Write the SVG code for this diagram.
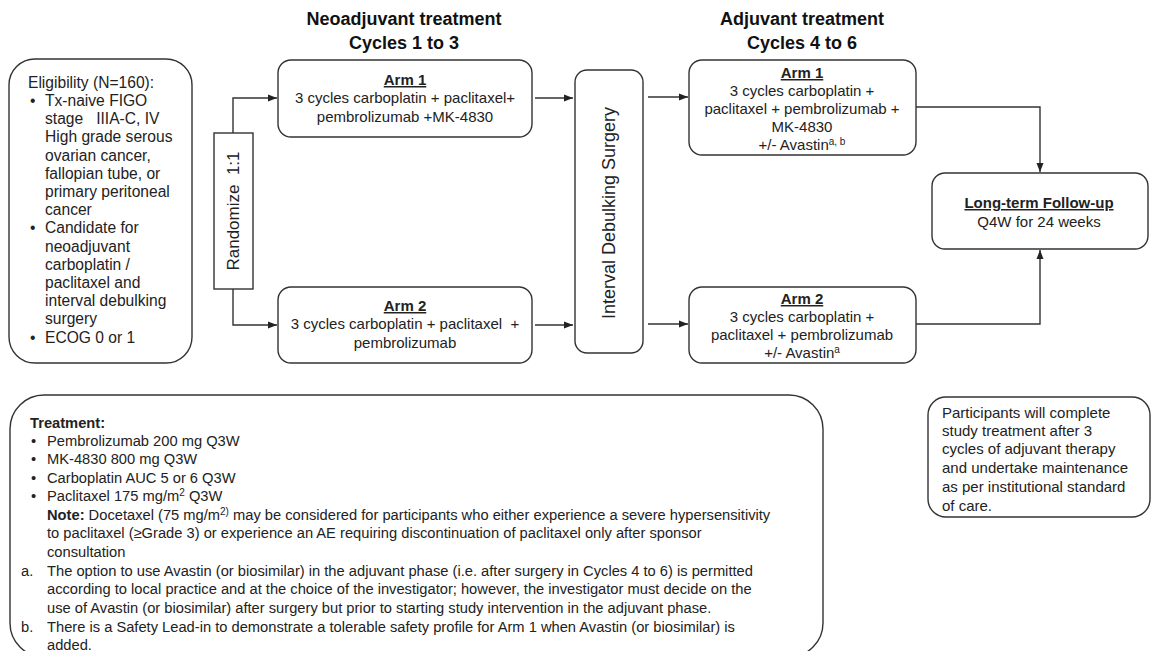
<svg xmlns="http://www.w3.org/2000/svg" width="1151" height="651" viewBox="0 0 1151 651">
<style>
text{font-family:"Liberation Sans",Arial,sans-serif;fill:#222;white-space:pre;}
.box{fill:#fff;stroke:#333;stroke-width:1.4;}
.t15{font-size:15px;}
.te{font-size:15.6px;}
.tt{font-size:14.7px;}
.tp{font-size:15px;}
.c{text-anchor:middle;}
.b{font-weight:bold;}
.u{text-decoration:underline;}
.title{font-size:18px;font-weight:bold;text-anchor:middle;fill:#111;}
.rot{font-size:17px;text-anchor:middle;}
.conn{fill:none;stroke:#333;stroke-width:1.4;}
</style>
<defs>
<marker id="arr" markerUnits="userSpaceOnUse" markerWidth="10" markerHeight="8" refX="9" refY="4" orient="auto">
<path d="M0,0.5 L9,4 L0,7.5 z" fill="#222"/>
</marker>
</defs>
<rect width="1151" height="651" fill="#fff"/>

<g id="titles">
<text class="title" x="404" y="25">Neoadjuvant treatment</text>
<text class="title" x="404" y="49">Cycles 1 to 3</text>
<text class="title" x="802" y="25">Adjuvant treatment</text>
<text class="title" x="802" y="49">Cycles 4 to 6</text>
</g>

<g id="connectors">
<path class="conn" d="M233,133 V98 H277" marker-end="url(#arr)"/>
<path class="conn" d="M233,289 V325 H277" marker-end="url(#arr)"/>
<path class="conn" d="M535,98 H573" marker-end="url(#arr)"/>
<path class="conn" d="M535,325 H573" marker-end="url(#arr)"/>
<path class="conn" d="M648,97 H688" marker-end="url(#arr)"/>
<path class="conn" d="M648,324 H688" marker-end="url(#arr)"/>
<path class="conn" d="M916,107 H1040 V172" marker-end="url(#arr)"/>
<path class="conn" d="M916,324 H1040 V250" marker-end="url(#arr)"/>
</g>

<g id="eligibility">
<rect class="box" x="9" y="59" width="183" height="304" rx="26"/>
<text class="te" x="28" y="88">Eligibility (N=160):</text>
<text class="te" x="30" y="106">•</text>
<text class="te" x="45" y="106">Tx-naive FIGO</text>
<text class="te" x="45" y="124">stage   IIIA-C, IV</text>
<text class="te" x="45" y="142">High grade serous</text>
<text class="te" x="45" y="161">ovarian cancer,</text>
<text class="te" x="45" y="179">fallopian tube, or</text>
<text class="te" x="45" y="197">primary peritoneal</text>
<text class="te" x="45" y="215">cancer</text>
<text class="te" x="30" y="233">•</text>
<text class="te" x="45" y="233">Candidate for</text>
<text class="te" x="45" y="252">neoadjuvant</text>
<text class="te" x="45" y="270">carboplatin /</text>
<text class="te" x="45" y="288">paclitaxel and</text>
<text class="te" x="45" y="306">interval debulking</text>
<text class="te" x="45" y="324">surgery</text>
<text class="te" x="30" y="343">•</text>
<text class="te" x="45" y="343">ECOG 0 or 1</text>
</g>

<g id="randomize">
<rect class="box" x="214" y="133" width="39" height="156"/>
<text class="rot" transform="translate(239,211) rotate(-90)">Randomize  1:1</text>
</g>

<g id="neo-arm1">
<rect class="box" x="278" y="60" width="254" height="77" rx="13"/>
<text class="t15 c b u" x="405" y="85">Arm 1</text>
<text class="t15 c" x="405" y="103">3 cycles carboplatin + paclitaxel+</text>
<text class="t15 c" x="405" y="122">pembrolizumab +MK-4830</text>
</g>

<g id="neo-arm2">
<rect class="box" x="278" y="287" width="254" height="76" rx="13"/>
<text class="t15 c b u" x="405" y="311">Arm 2</text>
<text class="t15 c" x="405" y="329">3 cycles carboplatin + paclitaxel  +</text>
<text class="t15 c" x="405" y="348">pembrolizumab</text>
</g>

<g id="surgery">
<rect class="box" x="575" y="70" width="68" height="283" rx="12"/>
<text class="rot" style="font-size:18px" transform="translate(615,213) rotate(-90)">Interval Debulking Surgery</text>
</g>

<g id="adj-arm1">
<rect class="box" x="689" y="60" width="227" height="95" rx="13"/>
<text class="t15 c b u" x="802" y="78">Arm 1</text>
<text class="t15 c" x="802" y="96">3 cycles carboplatin +</text>
<text class="t15 c" x="802" y="114">paclitaxel + pembrolizumab +</text>
<text class="t15 c" x="802" y="132">MK-4830</text>
<text class="t15 c" x="802" y="150">+/- Avastin<tspan font-size="10" dy="-5">a, b</tspan></text>
</g>

<g id="adj-arm2">
<rect class="box" x="689" y="287" width="227" height="76" rx="13"/>
<text class="t15 c b u" x="802" y="304">Arm 2</text>
<text class="t15 c" x="802" y="322">3 cycles carboplatin +</text>
<text class="t15 c" x="802" y="340">paclitaxel + pembrolizumab</text>
<text class="t15 c" x="802" y="358">+/- Avastin<tspan font-size="10" dy="-5">a</tspan></text>
</g>

<g id="followup">
<rect class="box" x="932" y="173" width="216" height="76" rx="13"/>
<text class="t15 c b u" x="1039" y="208">Long-term Follow-up</text>
<text class="t15 c" x="1039" y="227">Q4W for 24 weeks</text>
</g>

<g id="treatment">
<rect class="box" x="10" y="395" width="813" height="262" rx="34"/>
<text class="tt b" x="30" y="428">Treatment:</text>
<text class="tt" x="31" y="446">•</text>
<text class="tt" x="47" y="446">Pembrolizumab 200 mg Q3W</text>
<text class="tt" x="31" y="464">•</text>
<text class="tt" x="47" y="464">MK-4830 800 mg Q3W</text>
<text class="tt" x="31" y="483">•</text>
<text class="tt" x="47" y="483">Carboplatin AUC 5 or 6 Q3W</text>
<text class="tt" x="31" y="501">•</text>
<text class="tt" x="47" y="501">Paclitaxel 175 mg/m<tspan font-size="10" dy="-5">2</tspan><tspan dy="5"> Q3W</tspan></text>
<text class="tt" x="47" y="520"><tspan font-weight="bold">Note:</tspan> Docetaxel (75 mg/m<tspan font-size="10" dy="-5">2)</tspan><tspan dy="5"> may be considered for participants who either experience a severe hypersensitivity</tspan></text>
<text class="tt" x="47" y="538">to paclitaxel (≥Grade 3) or experience an AE requiring discontinuation of paclitaxel only after sponsor</text>
<text class="tt" x="47" y="557">consultation</text>
<text class="tt" x="21" y="576">a.</text>
<text class="tt" x="47" y="576">The option to use Avastin (or biosimilar) in the adjuvant phase (i.e. after surgery in Cycles 4 to 6) is permitted</text>
<text class="tt" x="47" y="594">according to local practice and at the choice of the investigator; however, the investigator must decide on the</text>
<text class="tt" x="47" y="613">use of Avastin (or biosimilar) after surgery but prior to starting study intervention in the adjuvant phase.</text>
<text class="tt" x="21" y="632">b.</text>
<text class="tt" x="47" y="632">There is a Safety Lead-in to demonstrate a tolerable safety profile for Arm 1 when Avastin (or biosimilar) is</text>
<text class="tt" x="47" y="650">added.</text>
</g>

<g id="participants">
<rect class="box" x="928" y="397" width="222" height="120" rx="18"/>
<text class="tp" x="942" y="418">Participants will complete</text>
<text class="tp" x="942" y="436">study treatment after 3</text>
<text class="tp" x="942" y="454">cycles of adjuvant therapy</text>
<text class="tp" x="942" y="473">and undertake maintenance</text>
<text class="tp" x="942" y="492">as per institutional standard</text>
<text class="tp" x="942" y="511">of care.</text>
</g>
</svg>
